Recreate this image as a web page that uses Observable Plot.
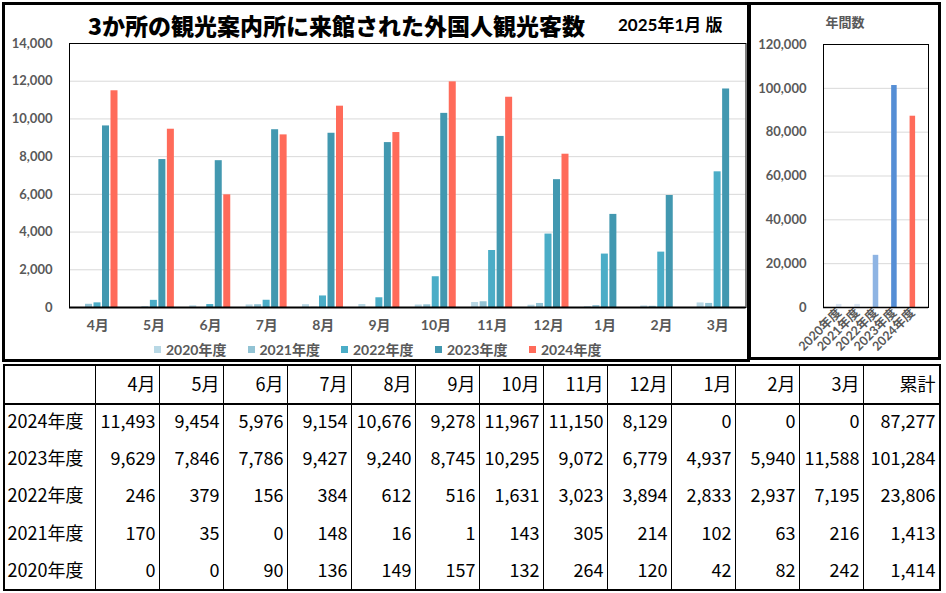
<!DOCTYPE html>
<html>
<head>
<meta charset="utf-8">
<script src="https://cdn.jsdelivr.net/npm/d3@7"></script>
<script src="https://cdn.jsdelivr.net/npm/@observablehq/plot@0.6"></script>
<style>
  body { margin:0; width:946px; height:593px; position:relative; background:#fff; overflow:hidden; }
  .abs { position:absolute; }
  .box { position:absolute; box-sizing:border-box; border:3px solid #000; pointer-events:none; }
  #title { left:88px; top:10px; line-height:30px; font-family:"Noto Sans CJK JP"; font-weight:900; font-size:23px; color:#000; white-space:nowrap; }
  #edition { left:618px; top:13px; line-height:24px; font-family:"Lato","Noto Sans CJK JP"; font-weight:700; font-size:17px; color:#000; white-space:nowrap; }
  #sideTitle { left:751px; width:188px; top:12px; line-height:20px; text-align:center; font-family:"Noto Sans CJK JP"; font-weight:700; font-size:13px; color:#595959; }
  #legend { left:0; top:339px; height:20px; }
  .lg { position:absolute; top:0; height:20px; display:flex; align-items:center; font-family:"Lato","Noto Sans CJK JP"; font-weight:700; font-size:14px; color:#595959; white-space:nowrap; }
  .sw { width:7px; height:7px; margin-right:5px; }
  #mainPlot g[aria-label^="x-axis"] { font-size:14px; }
  svg.tbl { max-width:none !important; }
</style>
</head>
<body>
<script>
// ---------- data ----------
const months = ["4月","5月","6月","7月","8月","9月","10月","11月","12月","1月","2月","3月"];
const years = ["2020年度","2021年度","2022年度","2023年度","2024年度"];
const v2020 = [0,0,90,136,149,157,132,264,120,42,82,242];
const v2021 = [170,35,0,148,16,1,143,305,214,102,63,216];
const v2022 = [246,379,156,384,612,516,1631,3023,3894,2833,2937,7195];
const v2023 = [9629,7846,7786,9427,9240,8745,10295,9072,6779,4937,5940,11588];
const v2024 = [11493,9454,5976,9154,10676,9278,11967,11150,8129,0,0,0];
const annualTotals = [1414,1413,23806,101284,87277]; // 2020..2024
const monthColors = ["#b8d8e5","#92c3d4","#4badc7","#4298b0","#ff6b5a"];
const annualColors = ["#dae5f2","#dae5f2","#8eb4e3","#558ed5","#ff6b5a"];
const yTicksMain = [0,2000,4000,6000,8000,10000,12000,14000];
const yTicksAnnual = [0,20000,40000,60000,80000,100000,120000];
const titleText = "3か所の観光案内所に来館された外国人観光客数";
const editionText = "2025年1月 版";
const sideTitleText = "年間数";
const totalLabel = "累計";

const series = [v2020, v2021, v2022, v2023, v2024];
const rows = [];
years.forEach((y, i) => months.forEach((m, j) => rows.push({year: y, month: m, value: series[i][j]})));
const annualRows = years.map((y, i) => ({year: y, value: annualTotals[i]}));
const fmt = d3.format(",");

function place(el, left, top) {
  el.style.position = "absolute";
  el.style.left = left + "px";
  el.style.top = top + "px";
  document.body.appendChild(el);
  return el;
}

// ---------- main chart ----------
const W = 750, H = 362, mL = 69, mR = 4.5, mT = 43, mB = 55;
const bw = (W - mL - mR) / months.length;
const barW = 7, step = 8.5, off0 = 7.5;

const marks = [
  Plot.ruleY(yTicksMain.filter(d => d > 0), {stroke: "#d9d9d9", strokeWidth: 1})
];
years.forEach((y, i) => {
  const il = off0 + i * step;
  marks.push(Plot.barY(rows, {
    filter: d => d.year === y,
    x: "month", y: "value", fill: monthColors[i],
    insetLeft: il, insetRight: bw - il - barW
  }));
});
marks.push(Plot.frame({stroke: "#000", strokeWidth: 1}));
marks.push(Plot.ruleY([0], {stroke: "#000", strokeWidth: 2}));

const main = Plot.plot({
  width: W, height: H,
  marginLeft: mL, marginRight: mR, marginTop: mT, marginBottom: mB,
  style: {background: "none", fontFamily: "Lato, 'Noto Sans CJK JP'", fontWeight: 700, fontSize: "13px", color: "#595959"},
  x: {type: "band", domain: months, padding: 0, round: false, tickSize: 0, tickPadding: 13, label: null},
  y: {domain: [0, 14000], ticks: 7, tickFormat: fmt, tickSize: 0, tickPadding: 17, label: null},
  marks
});
main.id = "mainPlot";
place(main, 0, 0);

// ---------- annual chart ----------
const side = Plot.plot({
  width: 188, height: H,
  marginLeft: 72, marginRight: 11, marginTop: 44, marginBottom: 55,
  style: {background: "none", fontFamily: "Lato, 'Noto Sans CJK JP'", fontWeight: 700, fontSize: "13px", color: "#595959"},
  x: {type: "band", domain: years, padding: 0.7, round: false, tickSize: 0, tickPadding: 3, tickRotate: -45, label: null},
  y: {domain: [0, 120000], ticks: 6, tickFormat: fmt, tickSize: 0, tickPadding: 17, label: null},
  color: {domain: years, range: annualColors},
  marks: [
    Plot.ruleY(yTicksAnnual.filter(d => d > 0), {stroke: "#d9d9d9"}),
    Plot.barY(annualRows, {x: "year", y: "value", fill: "year"}),
    Plot.frame({stroke: "#000"}),
    Plot.ruleY([0], {stroke: "#000", strokeWidth: 1.5})
  ]
});
side.querySelectorAll('g[aria-label^="x-axis"]').forEach(g => g.setAttribute("font-size", "12.5"));
place(side, 751, 0);

// ---------- texts ----------
function addDiv(id, cls, text) {
  const d = document.createElement("div");
  if (id) d.id = id;
  d.className = cls;
  if (text != null) d.textContent = text;
  document.body.appendChild(d);
  return d;
}
addDiv("title", "abs", titleText);
addDiv("edition", "abs", editionText);
addDiv("sideTitle", "abs", sideTitleText);

const legend = addDiv("legend", "abs", null);
const legendX = [154, 247.5, 341, 435, 529];
years.forEach((y, i) => {
  const it = document.createElement("div");
  it.className = "lg";
  it.style.left = legendX[i] + "px";
  const sw = document.createElement("span");
  sw.className = "sw";
  sw.style.background = monthColors[i];
  it.appendChild(sw);
  it.appendChild(document.createTextNode(y));
  legend.appendChild(it);
});

// ---------- table drawn with Plot ----------
const rowKeys = ["head", ...years.slice().reverse()];
const monthCells = [];
months.forEach(c => monthCells.push({row: "head", col: c, text: c}));
years.forEach((y, i) => months.forEach((m, j) => monthCells.push({row: y, col: m, text: fmt(series[i][j])})));
const totalCells = [{row: "head", col: totalLabel, text: totalLabel}];
years.forEach((y, i) => totalCells.push({row: y, col: totalLabel, text: fmt(annualTotals[i])}));

const tStyle = {background: "none", fontFamily: "'Noto Sans CJK JP'", fontSize: "18px", color: "#000", overflow: "visible"};
const TH = 227, tM = 2;
const bandH = (TH - 2 * tM) / rowKeys.length;
const yBand = {type: "band", domain: rowKeys, padding: 0, round: false, axis: null};

// first column (row labels)
const TW1 = 92;
const tA = Plot.plot({
  width: TW1, height: TH, marginLeft: 2, marginRight: 0, marginTop: tM, marginBottom: tM,
  style: tStyle,
  x: {type: "band", domain: ["label"], padding: 0, round: false, axis: null},
  y: yBand,
  marks: [
    Plot.text(years, {x: () => "label", y: d => d, text: d => d, textAnchor: "start", dx: -(TW1 - 2) / 2 + 2, fill: "#000"}),
    Plot.ruleY(["2024年度"], {dy: -bandH / 2, stroke: "#000", strokeWidth: 2, shapeRendering: "crispEdges"})
  ]
});
tA.classList.add("tbl");
place(tA, 3, 364);

// month columns
const TW2 = 768;
const colBw = TW2 / months.length;
const tB = Plot.plot({
  width: TW2, height: TH, marginLeft: 0, marginRight: 0, marginTop: tM, marginBottom: tM,
  style: tStyle,
  x: {type: "band", domain: months, padding: 0, round: false, axis: null},
  y: yBand,
  marks: [
    Plot.ruleX(months, {dx: -colBw / 2, stroke: "#000", strokeWidth: 1, shapeRendering: "crispEdges"}),
    Plot.ruleY(["2024年度"], {dy: -bandH / 2, stroke: "#000", strokeWidth: 2, shapeRendering: "crispEdges"}),
    Plot.text(monthCells, {x: "col", y: "row", text: "text", textAnchor: "end", dx: colBw / 2 - 4, fill: "#000"})
  ]
});
tB.classList.add("tbl");
place(tB, 95, 364);

// total column
const TW3 = 78;
const totBw = TW3 - 2;
const tC = Plot.plot({
  width: TW3, height: TH, marginLeft: 0, marginRight: 2, marginTop: tM, marginBottom: tM,
  style: tStyle,
  x: {type: "band", domain: [totalLabel], padding: 0, round: false, axis: null},
  y: yBand,
  marks: [
    Plot.ruleX([totalLabel], {dx: -totBw / 2, stroke: "#000", strokeWidth: 1, shapeRendering: "crispEdges"}),
    Plot.ruleY(["2024年度"], {dy: -bandH / 2, stroke: "#000", strokeWidth: 2, shapeRendering: "crispEdges"}),
    Plot.text(totalCells, {x: "col", y: "row", text: "text", textAnchor: "end", dx: totBw / 2 - 4, fill: "#000"})
  ]
});
tC.classList.add("tbl");
place(tC, 863, 364);

// panel borders
const b1 = addDiv(null, "box", null);
Object.assign(b1.style, {left: "2px", top: "2px", width: "748px", height: "360px"});
const b2 = addDiv(null, "box", null);
Object.assign(b2.style, {left: "748px", top: "2px", width: "193px", height: "358px"});
const b3 = addDiv(null, "box", null);
Object.assign(b3.style, {left: "3px", top: "364px", width: "938px", height: "227px", borderWidth: "2px"});
</script>
</body>
</html>
